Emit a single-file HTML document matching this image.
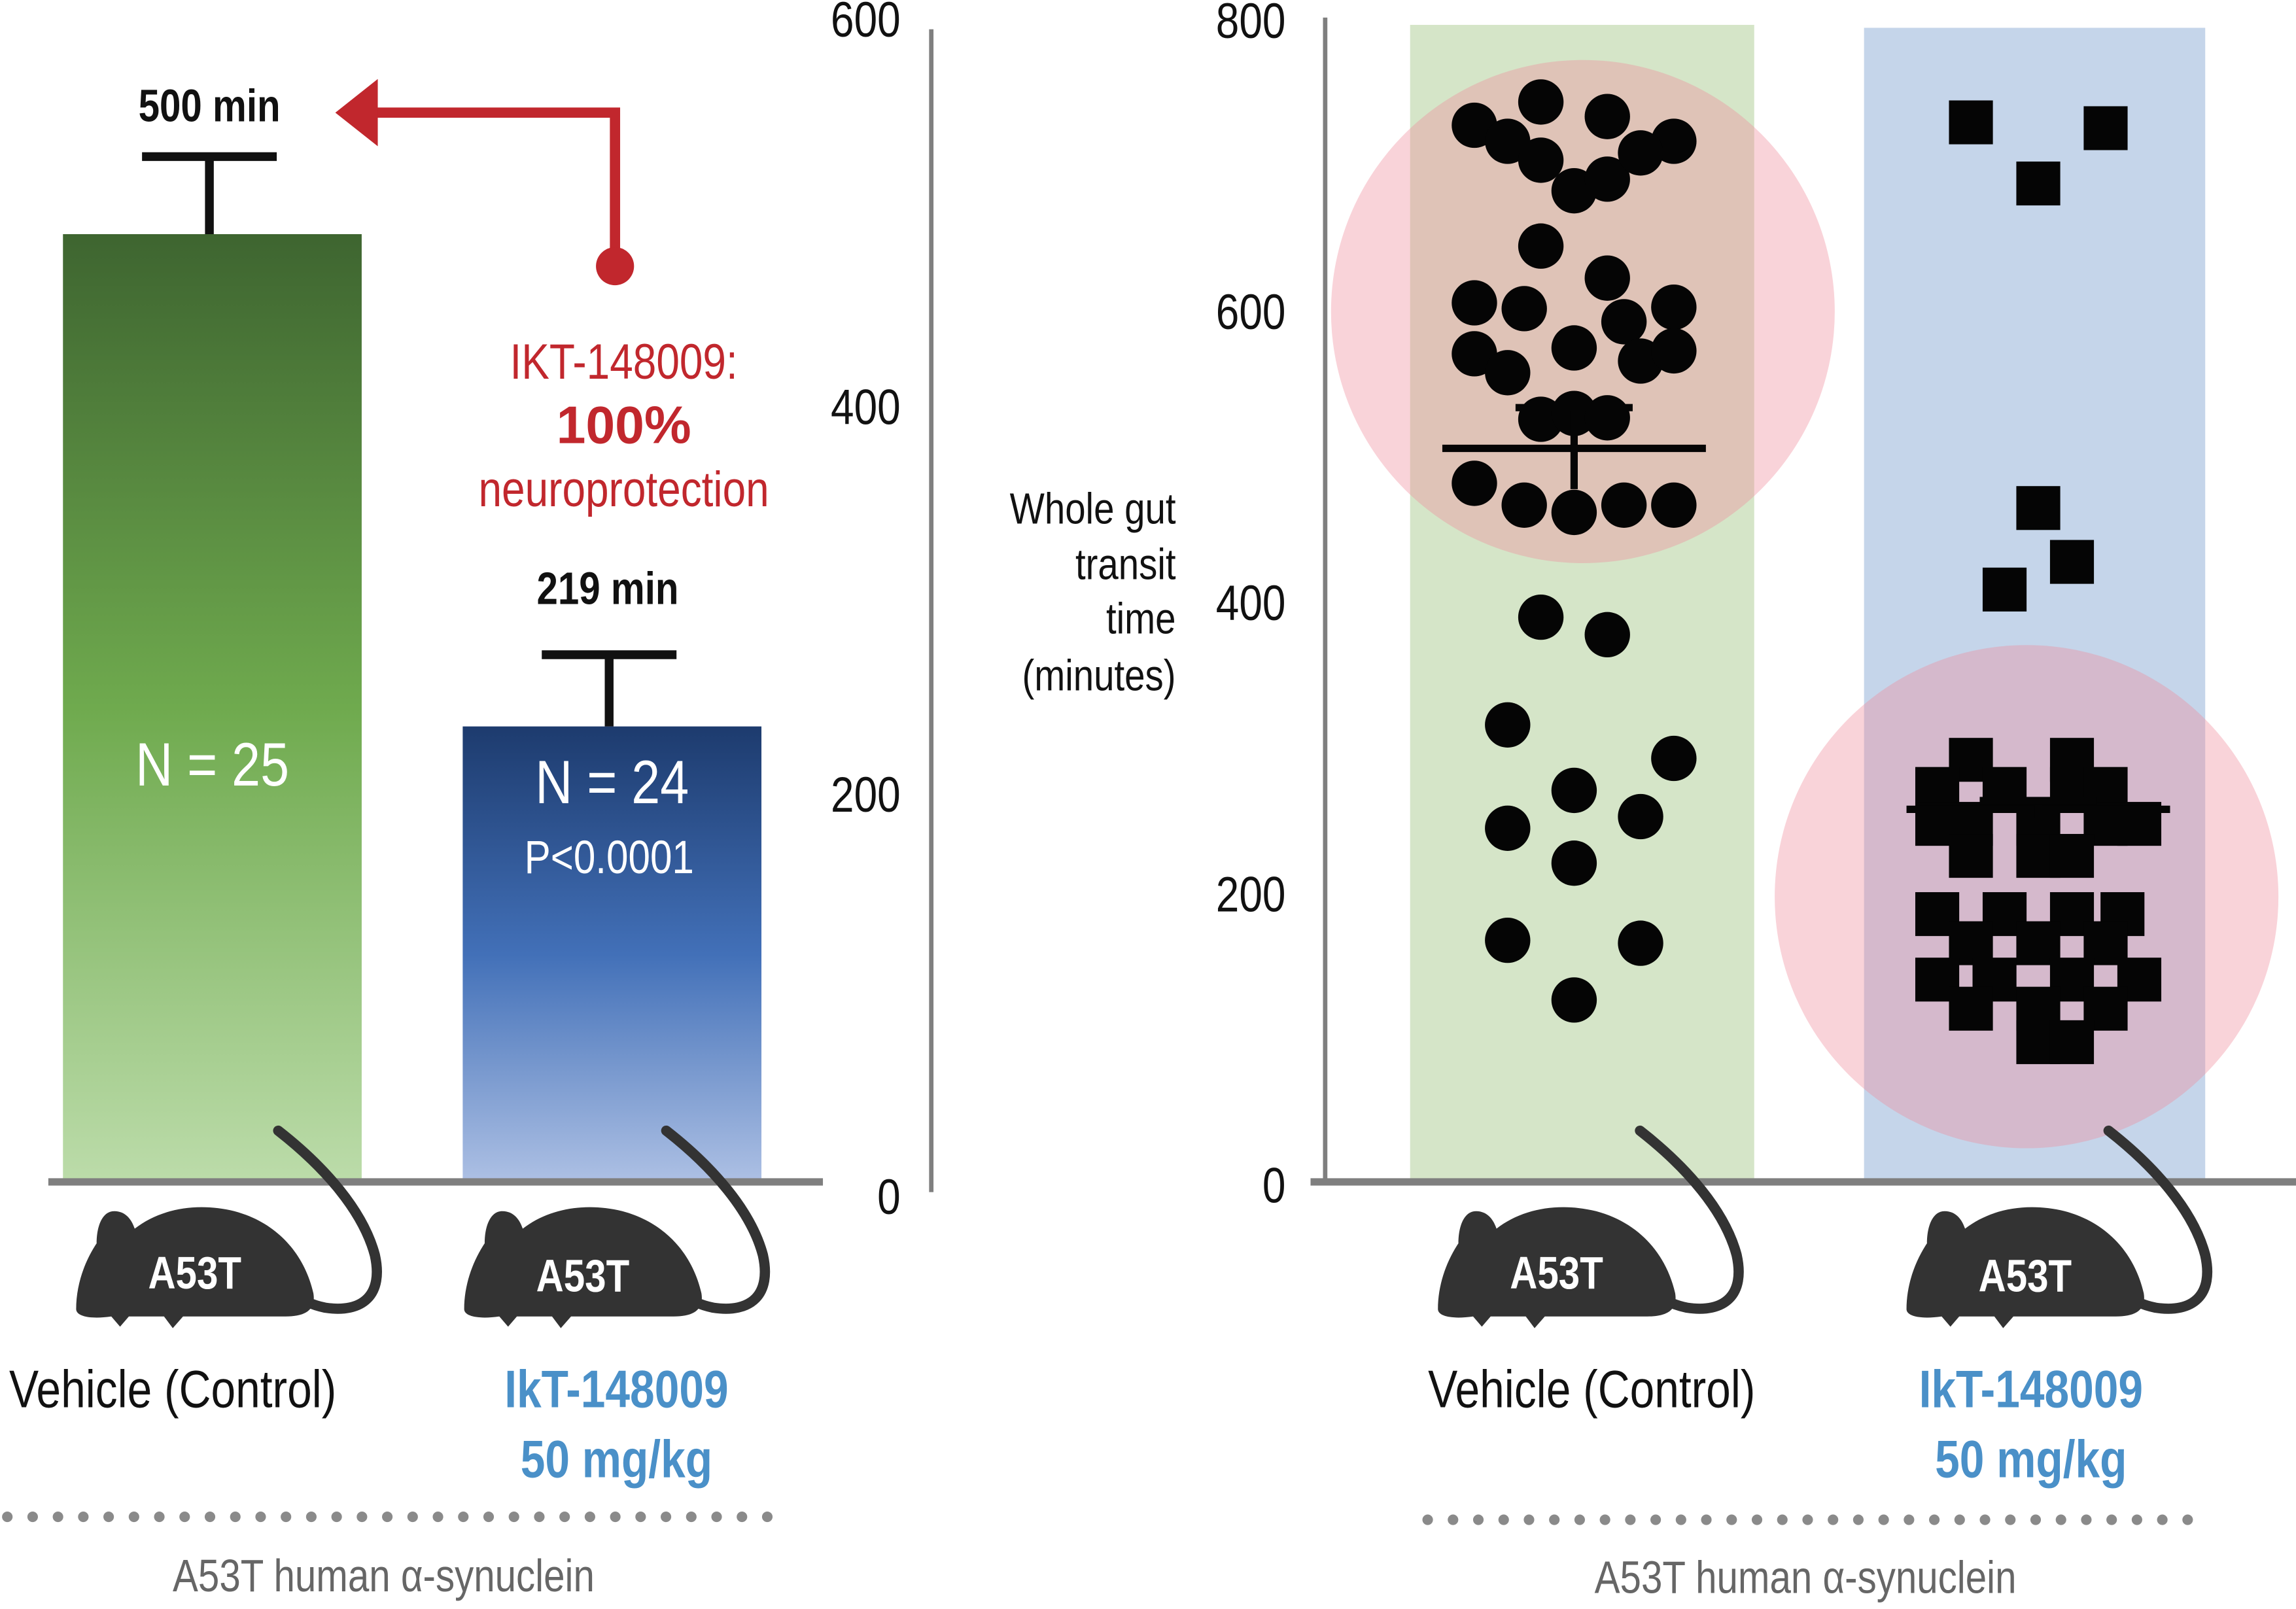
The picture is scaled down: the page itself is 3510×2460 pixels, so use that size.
<!DOCTYPE html>
<html><head><meta charset="utf-8"><style>
html,body{margin:0;padding:0;background:#fff;}
svg{display:block;}
text{font-family:"Liberation Sans Narrow","Liberation Sans",sans-serif;}
</style></head><body>
<svg id="chart" width="3510" height="2460" viewBox="0 0 1568 1100" preserveAspectRatio="none">
<defs>
<linearGradient id="gGreen" x1="0" y1="0" x2="0" y2="1"><stop offset="0" stop-color="#3e6530"/><stop offset="0.5" stop-color="#6faa4e"/><stop offset="1" stop-color="#bcdcaa"/></linearGradient>
<linearGradient id="gBlue" x1="0" y1="0" x2="0" y2="1"><stop offset="0" stop-color="#1d3b6e"/><stop offset="0.5" stop-color="#4270b8"/><stop offset="1" stop-color="#adc0e4"/></linearGradient>
<g id="mouse">
<path d="M190,773 C222,798 248,828 256,858 C262,885 248,898 222,894 C212,892 205,888 200,884" fill="none" stroke="#333" stroke-width="7" stroke-linecap="round"/>
<path d="M52,895 C52,878 58,862 66,850 C66,838 70,828 78,828 C86,828 90,834 92,840 C110,826 135,822 160,828 C190,836 208,858 214,884 C216,896 208,900 195,900 L125,900 L118,908 L112,900 L88,900 L82,907 L76,900 C62,902 52,900 52,895 Z" fill="#333"/>
</g>
</defs>

<g>
<g id="leftBars"></g>
<line x1="33" y1="808" x2="562" y2="808" stroke="#7f7f7f" stroke-width="5"/>
<line x1="636" y1="20" x2="636" y2="815" stroke="#7f7f7f" stroke-width="3"/>
<g id="leftTicks" font-size="34" fill="#111" text-anchor="end"></g>
<text class="n" x="143" y="83" font-size="31" font-weight="bold" text-anchor="middle" fill="#111">500 min</text>
<text class="n" x="415" y="413" font-size="31" font-weight="bold" text-anchor="middle" fill="#111">219 min</text>
<text class="n" x="145" y="537" font-size="42" text-anchor="middle" fill="#fff">N = 25</text>
<text class="n" x="418" y="549" font-size="42" text-anchor="middle" fill="#fff">N = 24</text>
<text class="n" x="416" y="597" font-size="32" text-anchor="middle" fill="#fff">P&lt;0.0001</text>
<g>
<polyline points="420,182 420,77 250,77" fill="none" stroke="#c1272d" stroke-width="7"/>
<polygon points="229,77 258,54 258,100" fill="#c1272d"/>
<circle cx="420" cy="182" r="13" fill="#c1272d"/>
</g>
<text class="n" x="426" y="259" font-size="34" text-anchor="middle" fill="#c1272d">IKT-148009:</text>
<text x="426" y="303" font-size="36" font-weight="bold" text-anchor="middle" fill="#c1272d" font-family="Liberation Sans, sans-serif">100%</text>
<text class="n" x="426" y="346" font-size="34" text-anchor="middle" fill="#c1272d">neuroprotection</text>
</g>

<g>
<rect x="963" y="17" width="235" height="791" fill="#d5e5c8"/>
<rect x="1273" y="19" width="233" height="789" fill="#c5d5ea"/>
<circle cx="1081" cy="213" r="172" fill="rgba(238,140,155,0.38)"/>
<circle cx="1384" cy="613" r="172" fill="rgba(238,140,155,0.38)"/>
<g id="dots"></g>
<line x1="895" y1="808" x2="1568" y2="808" stroke="#7f7f7f" stroke-width="5"/>
<line x1="905" y1="12" x2="905" y2="808" stroke="#7f7f7f" stroke-width="3"/>
<g id="rightTicks" font-size="34" fill="#111" text-anchor="end"></g>
<g font-size="30" fill="#111" text-anchor="end">
<text class="n" x="803" y="358">Whole gut</text><text class="n" x="803" y="396">transit</text><text class="n" x="803" y="433">time</text><text class="n" x="803" y="472">(minutes)</text>
</g>
</g>

<g><use href="#mouse"/><text class="n" x="133" y="881" font-size="31" font-weight="bold" fill="#fff" text-anchor="middle">A53T</text></g>
<g><use href="#mouse" x="265"/><text class="n" x="398" y="883" font-size="31" font-weight="bold" fill="#fff" text-anchor="middle">A53T</text></g>
<g><use href="#mouse" x="930"/><text class="n" x="1063" y="881" font-size="31" font-weight="bold" fill="#fff" text-anchor="middle">A53T</text></g>
<g><use href="#mouse" x="1250"/><text class="n" x="1383" y="883" font-size="31" font-weight="bold" fill="#fff" text-anchor="middle">A53T</text></g>

<text class="n" x="118" y="962" font-size="36" text-anchor="middle" fill="#111">Vehicle (Control)</text>
<text class="n" x="421" y="962" font-size="36" font-weight="bold" text-anchor="middle" fill="#4a90c8">IkT-148009</text>
<text class="n" x="421" y="1010" font-size="36" font-weight="bold" text-anchor="middle" fill="#4a90c8">50 mg/kg</text>
<text class="n" x="1087" y="962" font-size="36" text-anchor="middle" fill="#111">Vehicle (Control)</text>
<text class="n" x="1387" y="962" font-size="36" font-weight="bold" text-anchor="middle" fill="#4a90c8">IkT-148009</text>
<text class="n" x="1387" y="1010" font-size="36" font-weight="bold" text-anchor="middle" fill="#4a90c8">50 mg/kg</text>
<g id="dotted"></g>
<text class="n" x="262" y="1088" font-size="31" text-anchor="middle" fill="#666">A53T human α-synuclein</text>
<text class="n" x="1233" y="1089" font-size="31" text-anchor="middle" fill="#666">A53T human α-synuclein</text>
</svg>
<script>
const NS="http://www.w3.org/2000/svg";
const barCategories=["Vehicle (Control)","IkT-148009 50 mg/kg"];
const barValues=[489,235];
const barErrors=[40,37];
const leftTickLabels=[0,200,400,600];
const rightTickLabels=[0,200,400,600,800];
const vehicleValues=[728,744,734,717,717,704,683,691,709,645,623,606,602,593,603,571,558,575,566,573,526,530,527,482,467,462,467,467,390,378,316,293,271,245,253,221,168,166,127];
const vehicleCols=[-3,-1,1,3,-2,-1,0,1,2,-1,1,-3,-1.5,1.5,3,-3,-2,0,2,3,-1,0,1,-3,-1.5,0,1.5,3,-1,1,-2,3,0,-2,2,0,-2,2,0];
const vehicleMean=506, vehicleSem=28;
const treatedValues=[730,726,688,465,428,409,292,292,272,272,272,272,248,248,248,248,248,226,226,226,186,186,186,186,166,166,166,141,141,141,141,121,121,121,98,98];
const treatedCols=[-2,2,0,0,1,-1,-2,1,-3,-1,1,2,-3,-2,0,2,3,-2,0,1,-3,-1,1,2.5,-2,0,2,-3,-1.3,1,3,-2,0,2,0,1];
const treatedMean=258, treatedSem=6;

function el(tag,attrs,parent){const e=document.createElementNS(NS,tag);for(const k in attrs)e.setAttribute(k,attrs[k]);parent.appendChild(e);return e;}
const yL=v=>808-v*1.325;
const barX=[145,418], barW=204;
const lb=document.getElementById('leftBars');
barValues.forEach((v,i)=>{
  const r=el('rect',{x:barX[i]-barW/2,y:yL(v),width:barW,height:808-yL(v),fill:i?'url(#gBlue)':'url(#gGreen)'},lb);
  
  
  const top=yL(v+barErrors[i]);
  const g=el('g',{stroke:'#111','stroke-width':6},lb);
  
  
  el('line',{x1:barX[i]-2,y1:top,x2:barX[i]-2,y2:yL(v)},g);
  el('line',{x1:barX[i]-48,y1:top,x2:barX[i]+44,y2:top},g);
});
const lt=document.getElementById('leftTicks');
leftTickLabels.forEach(t=>{const tx=el('text',{x:615,y:yL(t)+12+(t===0?10:0),class:'n'},lt);tx.textContent=t;
  
  });
const yR=v=>810-v*0.995;
const rt=document.getElementById('rightTicks');
rightTickLabels.forEach(t=>{const tx=el('text',{x:878,y:yR(t)+12,class:'n'},rt);tx.textContent=t;
  
  });
const dots=document.getElementById('dots');
vehicleValues.forEach((v,i)=>{const c=el('circle',{cx:1075+vehicleCols[i]*22.7,cy:yR(v),r:15.5,fill:'#050505'},dots);
  
  });
treatedValues.forEach((v,i)=>{const c=el('rect',{x:1392+(treatedCols[i]||0)*23-15,y:yR(v)-15,width:30,height:30,fill:'#050505'},dots);
  
  });
[[1075,vehicleMean,vehicleSem,'vehicle'],[1392,treatedMean,treatedSem,'treated']].forEach(([cx,m,s,n])=>{
  const g=el('g',{stroke:'#050505','stroke-width':5},dots);
  
  
  el('line',{x1:cx-90,y1:yR(m),x2:cx+90,y2:yR(m)},g);
  el('line',{x1:cx,y1:yR(m-s),x2:cx,y2:yR(m+s)},g);
  el('line',{x1:cx-40,y1:yR(m+s),x2:cx+40,y2:yR(m+s)},g);
});
const dt=document.getElementById('dotted');
[[5,525,1037],[975,1497,1039]].forEach(([a,b,y],k)=>{
  const g=el('g',{fill:'#8a8a8a'},dt);
  
  
  for(let x=a;x<=b;x+=17.3)el('circle',{cx:x,cy:y,r:3.6},g);
});
document.querySelectorAll('text.n').forEach(t=>{
  const x=+t.getAttribute('x');
  t.setAttribute('transform','translate('+x+',0) scale(0.84,1) translate('+(-x)+',0)');
});
</script>
</body></html>
